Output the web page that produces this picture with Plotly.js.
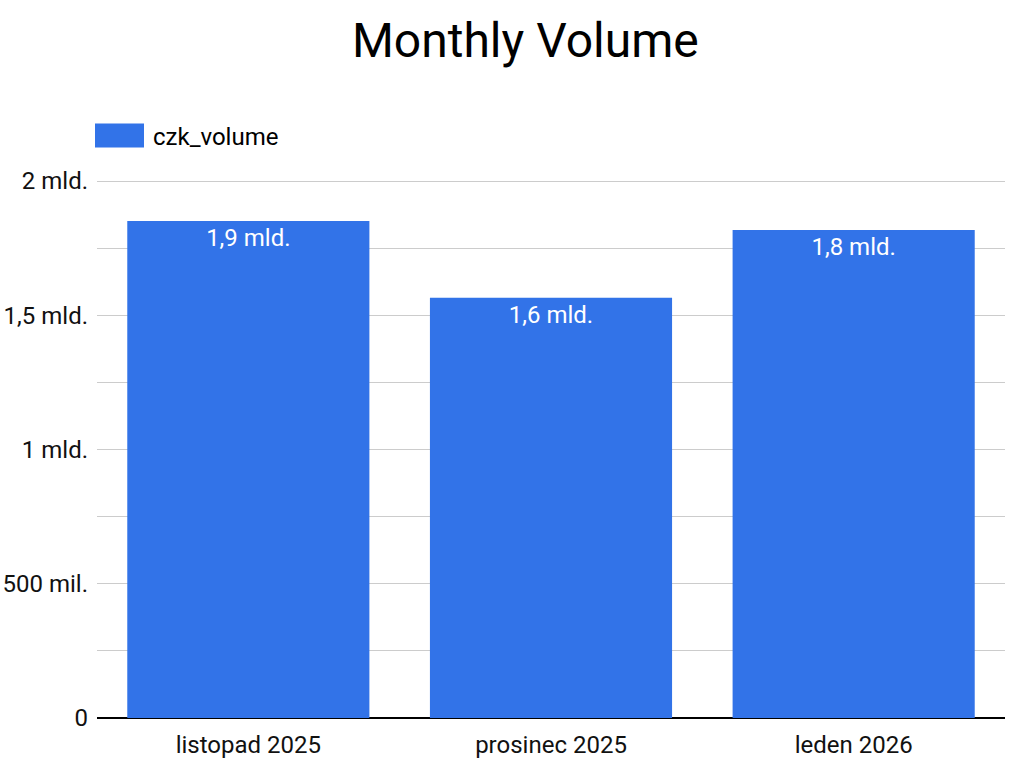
<!DOCTYPE html>
<html>
<head>
<meta charset="utf-8">
<script src="https://cdn.plot.ly/plotly-3.0.1.min.js"></script>
<style>html,body{margin:0;padding:0;background:#fff}#chart{width:1024px;height:776px}</style>
</head>
<body>
<div id="chart"></div>
<script>
const months = ["listopad 2025", "prosinec 2025", "leden 2026"];
const czkVolume = [1851000000, 1565000000, 1818000000];
const seriesName = "czk_volume";
const tickVals = [0, 250000000, 500000000, 750000000, 1000000000, 1250000000, 1500000000, 1750000000, 2000000000];
const tickLabels = ["0", "", "500 mil.", "", "1 mld.", "", "1,5 mld.", "", "2 mld."];

function fmt(v) {
  return (v / 1e9).toFixed(1).replace('.', ',') + ' mld.';
}

const FONT = 'Roboto, "Open Sans", sans-serif';

const trace = {
  type: 'bar',
  x: months,
  y: czkVolume,
  name: seriesName,
  marker: {color: '#3273e8'},
  text: czkVolume.map(fmt),
  textposition: 'inside',
  insidetextanchor: 'end',
  constraintext: 'none',
  textangle: 0,
  textfont: {color: '#ffffff', size: 24, family: FONT},
  hoverinfo: 'x+y'
};

const layout = {
  width: 1024, height: 776,
  margin: {l: 97, r: 19, t: 180, b: 58},
  paper_bgcolor: '#ffffff', plot_bgcolor: '#ffffff',
  font: {family: FONT, size: 24, color: '#000000'},
  title: {text: 'Monthly Volume', font: {size: 48, family: FONT, color: '#000'}, xref: 'container', x: 0.513, xanchor: 'center', yref: 'container', y: 1 - 40/776, yanchor: 'middle'},
  bargap: 0.2,
  showlegend: true,
  legend: {orientation: 'h', xref: 'container', yref: 'container', x: 86/1024, xanchor: 'left', y: 1 - 136/776, yanchor: 'middle', itemwidth: 57, font: {size: 24, family: FONT, color: '#000'}, bgcolor: 'rgba(0,0,0,0)'},
  xaxis: {type: 'category', showgrid: false, zeroline: false, showline: false, ticks: '', ticklabelstandoff: 10, tickfont: {size: 24, family: FONT, color: '#111'}, automargin: false},
  yaxis: {range: [0, 2004000000], tickmode: 'array', tickvals: tickVals, ticktext: tickLabels, showgrid: true, gridcolor: '#cccccc', gridwidth: 1, zeroline: true, zerolinecolor: '#000000', zerolinewidth: 2, showline: false, ticks: '', ticklabelstandoff: 8, tickfont: {size: 24, family: FONT, color: '#111'}, automargin: false, fixedrange: true}
};

const gd = document.getElementById('chart');
function fixLegend() {
  gd.querySelectorAll('.legendpoints path').forEach(p => {
    p.setAttribute('d', 'M-24.5,-12H24.5V12H-24.5Z');
  });
}
Plotly.newPlot(gd, [trace], layout, {displayModeBar: false, staticPlot: true}).then(() => {
  fixLegend();
  gd.on && gd.on('plotly_afterplot', fixLegend);
});
</script>
</body>
</html>
